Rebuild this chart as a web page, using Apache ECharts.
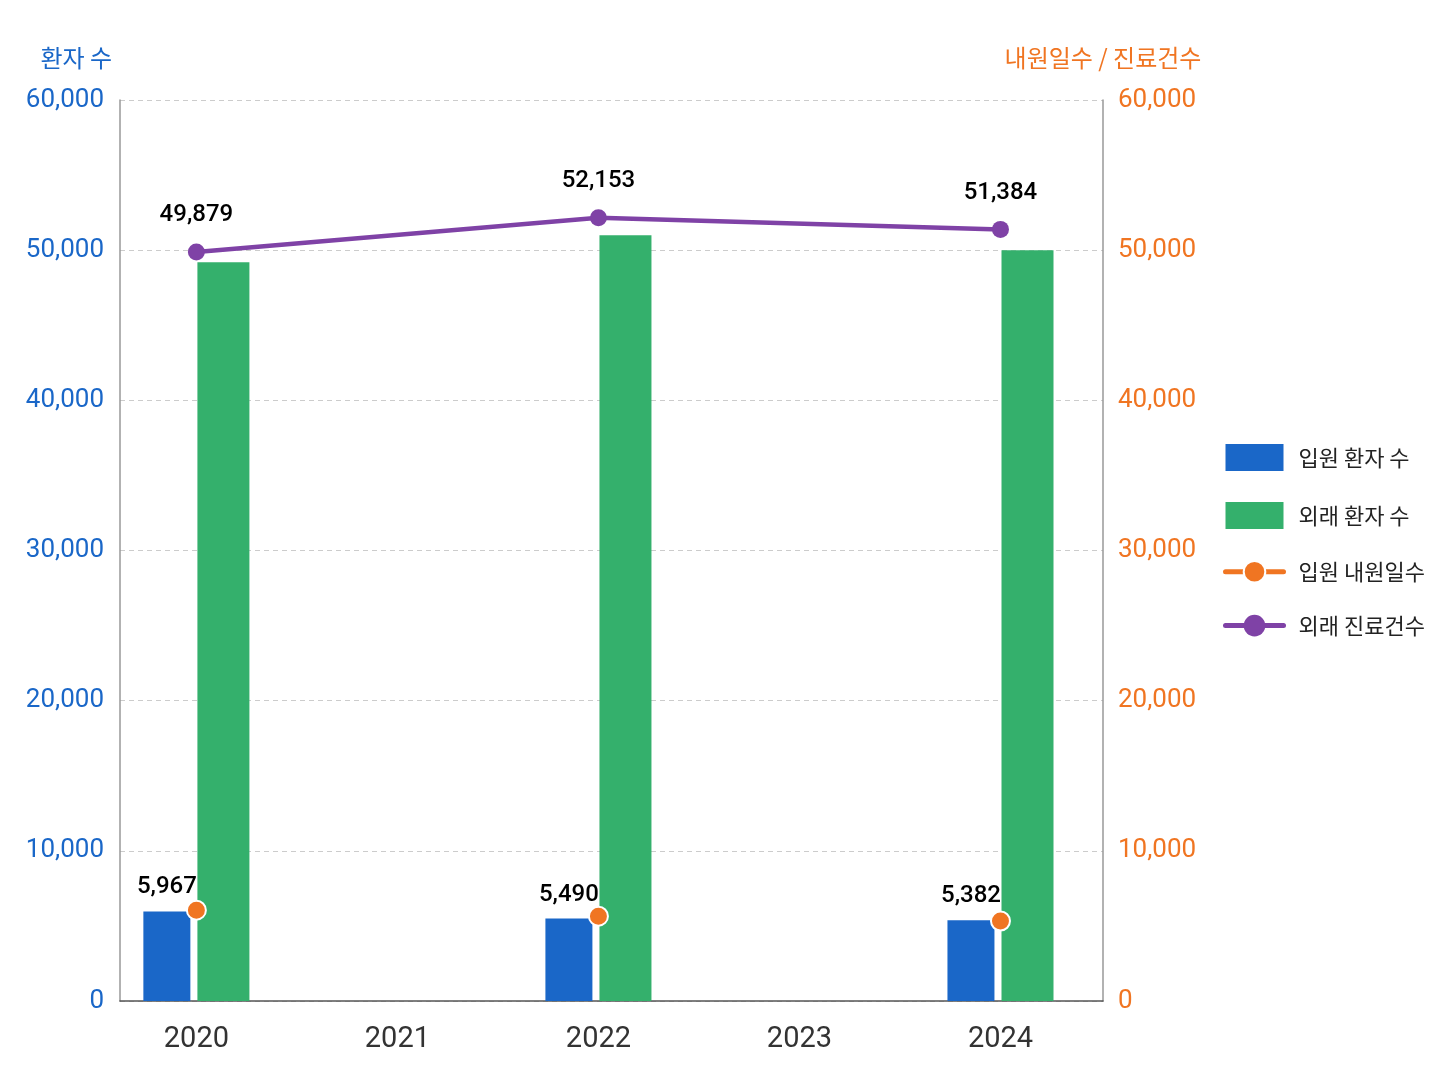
<!DOCTYPE html>
<html>
<head>
<meta charset="utf-8">
<script src="https://cdn.jsdelivr.net/npm/echarts@6/dist/echarts.min.js"></script>
<style>
  html, body { margin: 0; padding: 0; background: #fff; }
  #chart { width: 1448px; height: 1086px; }
</style>
</head>
<body>
<div id="chart"></div>
<script>
// 연도별 값 (2021, 2023 은 자료 없음)
const years = [2020, 2021, 2022, 2023, 2024];
const inpatients = [5967, null, 5490, null, 5382];          // 입원 환자 수
const outpatients = [49200, null, 51000, null, 50000];      // 외래 환자 수
const inpatientDays = [6050, null, 5650, null, 5330];       // 입원 내원일수
const outpatientVisits = [49879, null, 52153, null, 51384]; // 외래 진료건수
const yTicks = [0, 10000, 20000, 30000, 40000, 50000, 60000];

const BLUE = '#1a67c8', GREEN = '#34b06c', ORANGE = '#f07522', PURPLE = '#7f42a6';
const numFont = "Roboto, sans-serif";
const krFont = "'Noto Sans CJK KR', 'Noto Sans', sans-serif";

const pairs = arr => years.map((y, i) => [y, arr[i]]).filter(d => d[1] != null);
const pairsWithGaps = arr => years.map((y, i) => [y, arr[i] == null ? '-' : arr[i]]);
const fmt = v => v.toLocaleString('en-US');

const valueLabel = {
    show: true,
    position: 'top',
    formatter: p => fmt(p.value[1]),
    fontFamily: numFont,
    fontSize: 24,
    fontWeight: 500,
    color: '#000'
};

const chart = echarts.init(document.getElementById('chart'));

chart.setOption({
    animation: false,
    grid: { left: 120, right: 345, top: 100, bottom: 85 },
    legend: {
        orient: 'vertical',
        left: 1218,
        top: 439,
        itemWidth: 58,
        itemHeight: 27,
        itemGap: 31,
        lineStyle: { width: 5, cap: 'round' },
        textStyle: { fontFamily: krFont, fontSize: 22, color: '#222', padding: [0, 0, 0, 10] },
        data: [
            { name: '입원 환자 수', icon: 'rect' },
            { name: '외래 환자 수', icon: 'rect' },
            { name: '입원 내원일수' },
            { name: '외래 진료건수' }
        ]
    },
    xAxis: {
        type: 'value',
        min: 2019.62,
        max: 2024.51,
        splitLine: { show: false },
        axisTick: { show: false },
        axisLine: { show: true, lineStyle: { color: '#555', width: 1.5 } },
        axisLabel: {
            customValues: years,
            formatter: v => String(v),
            fontFamily: 'Roboto, sans-serif',
            fontSize: 29,
            color: '#333',
            margin: 24
        }
    },
    yAxis: [
        {
            type: 'value',
            position: 'left',
            min: yTicks[0],
            max: yTicks[yTicks.length - 1],
            interval: 10000,
            name: '환자 수',
            nameGap: 30,
            nameTextStyle: { fontFamily: krFont, fontSize: 24, color: BLUE, align: 'right', padding: [0, 8, 0, 0] },
            axisLine: { show: true, lineStyle: { color: '#999', width: 1.5 } },
            axisTick: { show: false },
            axisLabel: { fontFamily: 'Roboto, sans-serif', fontSize: 26, color: BLUE, margin: 16, padding: [5, 0, 0, 0], formatter: fmt },
            splitLine: { show: true, lineStyle: { color: '#ccc', type: [5, 4], width: 1.2 } }
        },
        {
            type: 'value',
            position: 'right',
            min: yTicks[0],
            max: yTicks[yTicks.length - 1],
            interval: 10000,
            name: '내원일수 / 진료건수',
            nameGap: 30,
            nameTextStyle: { fontFamily: krFont, fontSize: 24, color: ORANGE },
            axisLine: { show: true, lineStyle: { color: '#999', width: 1.5 } },
            axisTick: { show: false },
            axisLabel: { fontFamily: 'Roboto, sans-serif', fontSize: 26, color: ORANGE, margin: 15, padding: [5, 0, 0, 0], formatter: fmt },
            splitLine: { show: false }
        }
    ],
    series: [
        {
            name: '입원 환자 수',
            type: 'bar',
            yAxisIndex: 0,
            barWidth: 47,
            barGap: '15%',
            itemStyle: { color: BLUE },
            label: Object.assign({}, valueLabel, { distance: 12 }),
            data: pairs(inpatients)
        },
        {
            name: '외래 환자 수',
            type: 'bar',
            yAxisIndex: 0,
            barWidth: 52,
            itemStyle: { color: GREEN },
            data: pairs(outpatients)
        },
        {
            name: '입원 내원일수',
            type: 'line',
            yAxisIndex: 1,
            connectNulls: false,
            symbol: 'circle',
            symbolSize: 19,
            lineStyle: { color: ORANGE, width: 4 },
            itemStyle: { color: ORANGE, borderColor: '#fff', borderWidth: 2 },
            data: pairsWithGaps(inpatientDays)
        },
        {
            name: '외래 진료건수',
            type: 'line',
            yAxisIndex: 1,
            connectNulls: true,
            symbol: 'circle',
            symbolSize: 17,
            lineStyle: { color: PURPLE, width: 4.5 },
            itemStyle: { color: PURPLE },
            label: Object.assign({}, valueLabel, { distance: 16 }),
            data: pairs(outpatientVisits)
        }
    ]
});
</script>
</body>
</html>
